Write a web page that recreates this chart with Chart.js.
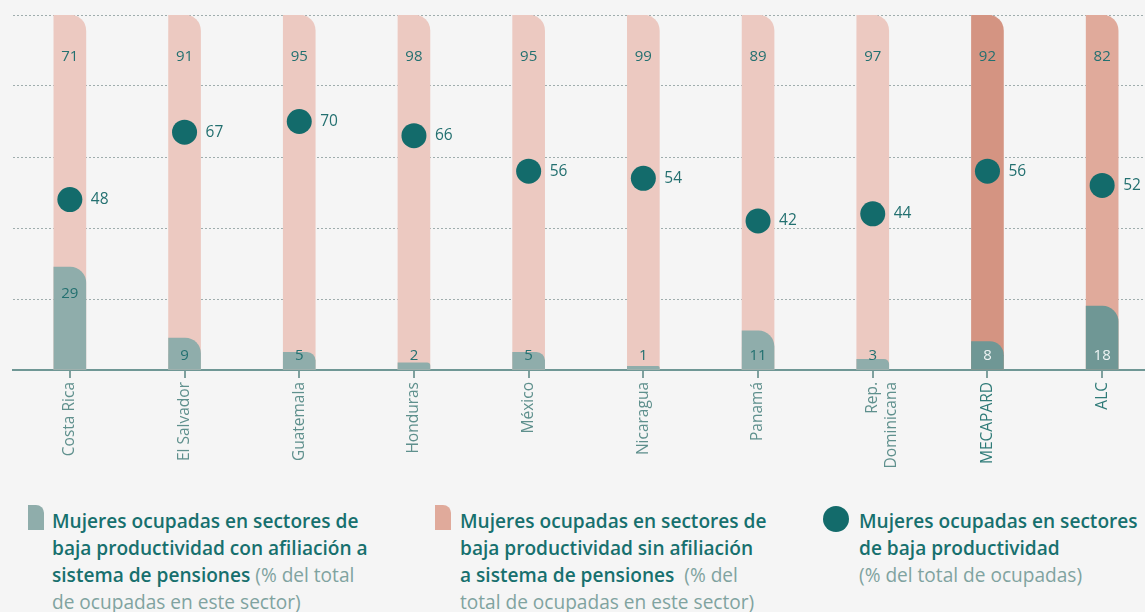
<!DOCTYPE html>
<html>
<head>
<meta charset="utf-8">
<script src="https://cdn.jsdelivr.net/npm/chart.js@4.4.0/dist/chart.umd.min.js"></script>
<style>
  html, body { margin: 0; padding: 0; background: #f5f5f5; overflow: hidden; }
  body { width: 1145px; height: 612px; position: relative; font-family: "Open Sans", sans-serif; }
  #wrap { position: absolute; left: 0; top: 0; width: 1172px; height: 480px; }
  .legend { position: absolute; top: 508px; font-size: 19.1px; line-height: 27px; font-weight: 600; color: #17706e; white-space: nowrap; }
  .legend .sub { color: #80a3a0; font-weight: 500; }
  .mark { position: absolute; }
</style>
</head>
<body>
<div id="wrap"><canvas id="chartCanvas"></canvas></div>

<div class="mark" style="left:28px;top:505px;width:16px;height:25px;background:#8fadab;border-top-right-radius:8px;"></div>
<div class="legend" style="left:52px;">Mujeres ocupadas en sectores de<br>baja productividad con afiliación a<br>sistema de pensiones <span class="sub">(% del total<br>de ocupadas en este sector)</span></div>

<div class="mark" style="left:435px;top:505px;width:16px;height:25px;background:#e0aa9b;border-top-right-radius:8px;"></div>
<div class="legend" style="left:460px;">Mujeres ocupadas en sectores de<br>baja productividad sin afiliación<br>a sistema de pensiones &nbsp;<span class="sub">(% del<br>total de ocupadas en este sector)</span></div>

<div class="mark" style="left:823px;top:506px;width:26px;height:26px;background:#136b6b;border-radius:50%;"></div>
<div class="legend" style="left:859px;">Mujeres ocupadas en sectores<br>de baja productividad<br><span class="sub">(% del total de ocupadas)</span></div>

<script>
// Categories and values
const countries = ["Costa Rica", "El Salvador", "Guatemala", "Honduras", "México", "Nicaragua", "Panamá", ["Rep.", "Dominicana"], "MECAPARD", "ALC"];
const withPension = [29, 9, 5, 2, 5, 1, 11, 3, 8, 18];
const withoutPension = [71, 91, 95, 98, 95, 99, 89, 97, 92, 82];
const lowProductivity = [48, 67, 70, 66, 56, 54, 42, 44, 56, 52];
const yTicks = [0, 20, 40, 60, 80, 100];

// Colors (last two bars are aggregates, darker)
const pinkColors = ["#ecc9c1", "#ecc9c1", "#ecc9c1", "#ecc9c1", "#ecc9c1", "#ecc9c1", "#ecc9c1", "#ecc9c1", "#d49482", "#e0aa9b"];
const tealColors = ["#8fadab", "#8fadab", "#8fadab", "#8fadab", "#8fadab", "#8fadab", "#8fadab", "#8fadab", "#6f9795", "#6f9795"];
const tickColors = ["#5f908d", "#5f908d", "#5f908d", "#5f908d", "#5f908d", "#5f908d", "#5f908d", "#5f908d", "#2f7b78", "#2f7b78"];

const totals = withPension.map((v, i) => v + withoutPension[i]);

// Plugin for the value labels
const valueLabels = {
  id: "valueLabels",
  afterDatasetsDraw(chart) {
    const ctx = chart.ctx;
    const x = chart.scales.x;
    const y = chart.scales.y;
    ctx.save();
    ctx.textBaseline = "middle";
    ctx.textAlign = "center";
    countries.forEach((c, i) => {
      const cx = x.getPixelForValue(i);
      ctx.font = "15px 'Open Sans', sans-serif";
      // pink segment label near top
      ctx.fillStyle = "#237070";
      ctx.fillText(withoutPension[i], cx, y.getPixelForValue(totals[i]) + 42);
      // teal segment label
      const ly = withPension[i] > 20 ? y.getPixelForValue(withPension[i]) + 27 : y.getPixelForValue(0) - 14;
      ctx.fillStyle = i >= 8 ? "#eef4f4" : "#237070";
      ctx.fillText(withPension[i], cx, ly);
      // dot label
      ctx.font = "15.5px 'Open Sans', sans-serif";
      ctx.fillStyle = "#237070";
      ctx.textAlign = "left";
      ctx.fillText(lowProductivity[i], cx + 21, y.getPixelForValue(lowProductivity[i]));
      ctx.textAlign = "center";
    });
    ctx.restore();
  },
};

const ctx = document.getElementById("chartCanvas").getContext("2d");
const chart = new Chart(ctx, {
  type: "bar",
  data: {
    labels: countries,
    datasets: [
      {
        type: "line",
        label: "Mujeres ocupadas en sectores de baja productividad",
        data: lowProductivity,
        showLine: false,
        pointRadius: 12.5,
        pointBackgroundColor: "#136b6b",
        pointBorderWidth: 0,
        order: 0,
      },
      {
        label: "Con afiliación",
        data: withPension,
        backgroundColor: tealColors,
        barThickness: 32,
        grouped: false,
        borderRadius: { topRight: 16, topLeft: 0, bottomLeft: 0, bottomRight: 0 },
        borderSkipped: "start",
        order: 1,
      },
      {
        label: "Sin afiliación",
        data: totals,
        backgroundColor: pinkColors,
        barThickness: 32,
        grouped: false,
        borderRadius: { topRight: 16, topLeft: 0, bottomLeft: 0, bottomRight: 0 },
        borderSkipped: "start",
        order: 2,
      },
    ],
  },
  options: {
    responsive: true,
    maintainAspectRatio: false,
    animation: false,
    layout: { padding: { top: 15, left: 0, right: 0, bottom: 0 } },
    plugins: {
      legend: { display: false },
      tooltip: { enabled: false },
    },
    scales: {
      x: {
        grid: {
          offset: false,
          drawOnChartArea: false,
          drawTicks: true,
          tickLength: 8,
          color: "#7fa09e",
          lineWidth: 2,
        },
        border: { display: true, color: "#6f9795", width: 2 },
        ticks: {
          minRotation: 90,
          maxRotation: 90,
          padding: 4,
          color: tickColors,
          font: { family: "'Open Sans', sans-serif", size: 15.5 },
        },
        afterFit: (scale) => { scale.height = 110; },
      },
      y: {
        min: 0,
        max: 100,
        afterBuildTicks: (scale) => { scale.ticks = yTicks.map((v) => ({ value: v })); },
        ticks: { display: false },
        border: { display: false, dash: [2, 2] },
        grid: {
          color: (c) => (c.tick.value === 0 ? "rgba(0,0,0,0)" : "#9fadad"),
          lineWidth: 1,
          drawTicks: false,
        },
        afterFit: (scale) => { scale.width = 8; },
      },
    },
  },
  plugins: [valueLabels],
});
</script>
</body>
</html>
